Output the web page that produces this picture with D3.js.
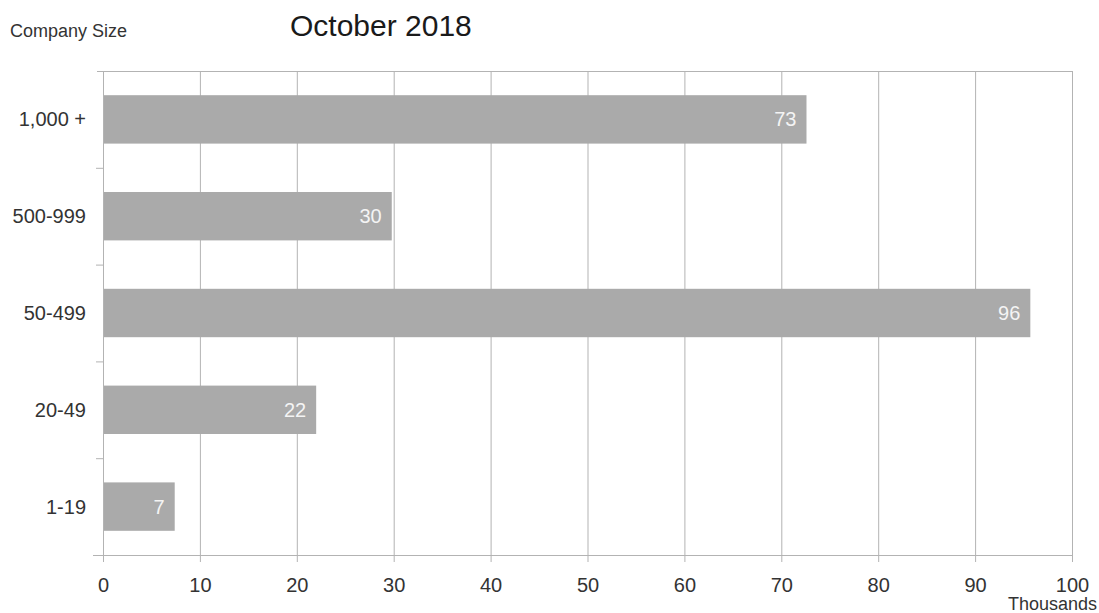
<!DOCTYPE html>
<html>
<head>
<meta charset="utf-8">
<script src="https://cdn.jsdelivr.net/npm/d3@7"></script>
<style>
  html, body { margin: 0; padding: 0; background: #fff; }
  svg { display: block; font-family: "Liberation Sans", Arial, sans-serif; }
</style>
</head>
<body>
<svg id="chart" width="1099" height="613"></svg>
<script>
// Employment by company size, October 2018 (thousands)
const categories = ["1,000 +", "500-999", "50-499", "20-49", "1-19"];
const values = [72.6, 29.8, 95.7, 22.0, 7.4];
const xTicks = [0, 10, 20, 30, 40, 50, 60, 70, 80, 90, 100];

const svg = d3.select("#chart");
const margin = { top: 71, right: 27, bottom: 58, left: 103 };
const W = 1099, H = 613;
const innerW = W - margin.left - margin.right;
const innerH = H - margin.top - margin.bottom;

const x = d3.scaleLinear().domain([0, 100]).range([0, innerW]);
const y = d3.scaleBand().domain(categories).range([0, innerH]).paddingInner(0.5).paddingOuter(0.25);
const band = d3.scaleBand().domain(categories).range([0, innerH]);

const g = svg.append("g").attr("transform", `translate(${margin.left},${margin.top})`);
const gridColor = "#b3b3b3";
const textColor = "#333";

// vertical gridlines
g.append("g").selectAll("line").data(xTicks.slice(1)).join("line")
  .attr("x1", d => x(d) + 0.5).attr("x2", d => x(d) + 0.5)
  .attr("y1", 0).attr("y2", innerH)
  .attr("stroke", gridColor).attr("stroke-width", 1);

// top border
g.append("line").attr("x1", -6).attr("x2", innerW).attr("y1", 0.5).attr("y2", 0.5)
  .attr("stroke", gridColor);

// bars
g.append("g").selectAll("rect").data(categories).join("rect")
  .attr("x", 0)
  .attr("y", d => y(d))
  .attr("width", (d, i) => x(values[i]))
  .attr("height", y.bandwidth())
  .attr("fill", "#aaaaaa");

// value labels inside bars
g.append("g").selectAll("text").data(categories).join("text")
  .attr("x", (d, i) => x(values[i]) - 10)
  .attr("y", d => y(d) + y.bandwidth() / 2)
  .attr("dy", "0.35em")
  .attr("text-anchor", "end")
  .attr("fill", "#f4f4f4")
  .attr("font-size", 20)
  .text((d, i) => d3.format(".0f")(values[i]));

// y axis line and separator ticks
g.append("line").attr("x1", 0.5).attr("x2", 0.5).attr("y1", 0).attr("y2", innerH + 6)
  .attr("stroke", gridColor);
g.append("g").selectAll("line").data(categories.slice(1)).join("line")
  .attr("x1", -7).attr("x2", 0)
  .attr("y1", d => band(d) + 0.5).attr("y2", d => band(d) + 0.5)
  .attr("stroke", gridColor);

// category labels
g.append("g").selectAll("text").data(categories).join("text")
  .attr("x", -17)
  .attr("y", d => y(d) + y.bandwidth() / 2)
  .attr("dy", "0.35em")
  .attr("text-anchor", "end")
  .attr("fill", textColor)
  .attr("font-size", 20)
  .text(d => d);

// x axis
const xAxis = g.append("g").attr("transform", `translate(0,${innerH})`)
  .call(d3.axisBottom(x).tickValues(xTicks).tickSize(7).tickSizeOuter(0).tickPadding(0));
xAxis.select(".domain").attr("stroke", gridColor).attr("d", `M-10,0.5H${innerW}`);
xAxis.selectAll(".tick line").attr("stroke", gridColor);
xAxis.selectAll(".tick text").attr("fill", textColor).attr("font-size", 20)
  .attr("font-family", "'Liberation Sans', Arial, sans-serif")
  .attr("dy", null).attr("y", 37);

// axis unit
svg.append("text").attr("x", 1097).attr("y", 610).attr("text-anchor", "end")
  .attr("fill", textColor).attr("font-size", 18).text("Thousands");

// titles
svg.append("text").attr("x", 10).attr("y", 37).attr("fill", textColor)
  .attr("font-size", 18).text("Company Size");
svg.append("text").attr("x", 290).attr("y", 36).attr("fill", "#1a1a1a")
  .attr("font-size", 30).text("October 2018");
</script>
</body>
</html>
